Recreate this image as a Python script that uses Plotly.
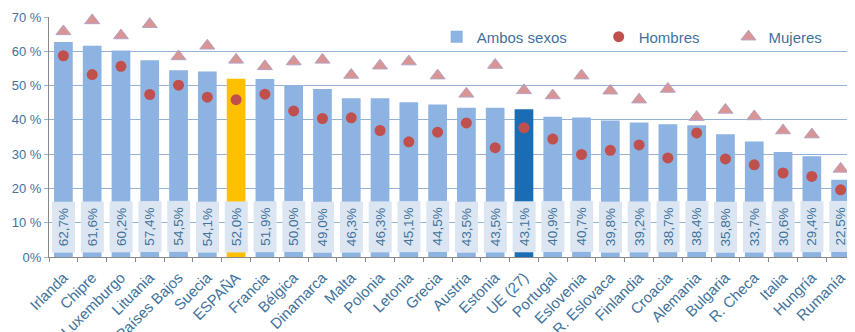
import plotly.graph_objects as go

paises = ['Irlanda', 'Chipre', 'Luxemburgo', 'Lituania', 'Países Bajos', 'Suecia', 'ESPAÑA',
          'Francia', 'Bélgica', 'Dinamarca', 'Malta', 'Polonia', 'Letonia', 'Grecia', 'Austria',
          'Estonia', 'UE (27)', 'Portugal', 'Eslovenia', 'R. Eslovaca', 'Finlandia', 'Croacia',
          'Alemania', 'Bulgaria', 'R. Checa', 'Italia', 'Hungría', 'Rumanía']
ambos = [62.7, 61.6, 60.2, 57.4, 54.5, 54.1, 52.0, 51.9, 50.0, 49.0, 46.3, 46.3, 45.1, 44.5,
         43.5, 43.5, 43.1, 40.9, 40.7, 39.8, 39.2, 38.7, 38.4, 35.8, 33.7, 30.6, 29.4, 22.5]
hombres = [58.7, 53.2, 55.6, 47.4, 50.1, 46.6, 45.9, 47.5, 42.6, 40.4, 40.6, 36.9, 33.6, 36.4,
           39.1, 31.9, 37.7, 34.4, 29.9, 31.1, 32.7, 28.9, 36.2, 28.6, 26.9, 24.5, 23.5, 19.6]
mujeres = [65.8, 69.0, 64.6, 67.9, 58.5, 61.6, 57.5, 55.6, 57.0, 57.5, 53.1, 55.8, 57.0, 52.9,
           47.6, 56.0, 48.6, 47.1, 52.9, 48.5, 45.9, 49.0, 40.8, 42.9, 41.0, 36.9, 35.7, 25.7]
y_ticks = [0, 10, 20, 30, 40, 50, 60, 70]
y_labels = ['0%', '10 %', '20 %', '30 %', '40 %', '50 %', '60 %', '70 %']

txt = '#41729B'
colores = ['#FFC000' if p == 'ESPAÑA' else '#1A6DB5' if p == 'UE (27)' else '#8DB3E2' for p in paises]

fig = go.Figure()
fig.add_bar(x=paises, y=ambos, name='Ambos sexos', legend='legend', showlegend=True,
            marker=dict(color=colores, line_width=0))
fig.add_scatter(x=paises, y=hombres, mode='markers', name='Hombres', cliponaxis=False, legend='legend2',
                marker=dict(symbol='circle', size=11, color='#C0504D', line_width=0))
fig.add_scatter(x=paises, y=mujeres, mode='markers', name='Mujeres', cliponaxis=False, legend='legend3',
                marker=dict(symbol='triangle-up', size=13, color='#D99594',
                            line=dict(color='#B3A2C7', width=1)))

for p, v in zip(paises, ambos):
    fig.add_annotation(x=p, y=8.8, text=f'{v:.1f}%'.replace('.', ','), textangle=-90,
                       showarrow=False, bgcolor='#DCE6F2', width=48, height=20,
                       font=dict(size=13.5, color=txt))

leg = dict(orientation='h', y=0.917, xanchor='left', yanchor='middle',
           bgcolor='rgba(0,0,0,0)', font=dict(size=15, color=txt), itemwidth=30)
# la página deja 8px de margen en el body: se descuentan aquí
fig.update_layout(
    width=847, height=324, plot_bgcolor='white', paper_bgcolor='white', showlegend=True,
    margin=dict(l=41, r=0, t=9, b=75, autoexpand=False), bargap=0.35,
    font=dict(family='Liberation Sans, Arial', size=14, color=txt),
    legend=dict(leg, x=0.481), legend2=dict(leg, x=0.682), legend3=dict(leg, x=0.843),
)
fig.update_xaxes(range=[-0.5, len(paises) - 0.5], tickangle=-45, showline=True, linecolor='#888888',
                 ticks='outside', automargin=False, tickson='boundaries', ticklen=4,
                 tickcolor='#888888', tickfont=dict(size=15), ticklabelstandoff=5)
fig.update_yaxes(range=[0, 70], tickvals=y_ticks, ticktext=y_labels, showgrid=True,
                 gridcolor='#95B3D7', showline=True, linecolor='#888888', ticks='outside',
                 ticklen=4, automargin=False, tickcolor='#95B3D7', tickfont=dict(size=13),
                 zeroline=False)
fig.write_html('out.html')
